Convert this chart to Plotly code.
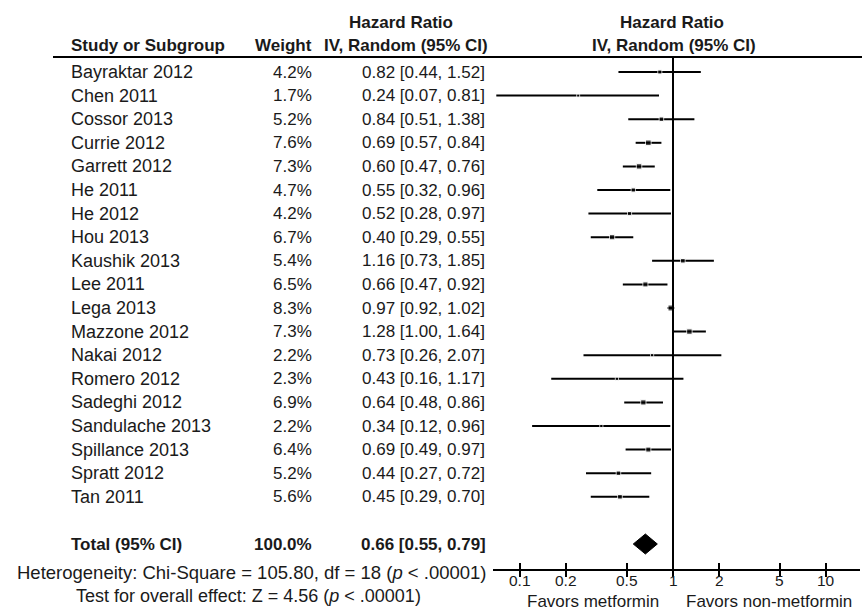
import math
import plotly.graph_objects as go

studies = ["Bayraktar 2012", "Chen 2011", "Cossor 2013", "Currie 2012", "Garrett 2012",
           "He 2011", "He 2012", "Hou 2013", "Kaushik 2013", "Lee 2011", "Lega 2013",
           "Mazzone 2012", "Nakai 2012", "Romero 2012", "Sadeghi 2012", "Sandulache 2013",
           "Spillance 2013", "Spratt 2012", "Tan 2011"]
weights = [4.2, 1.7, 5.2, 7.6, 7.3, 4.7, 4.2, 6.7, 5.4, 6.5, 8.3, 7.3, 2.2, 2.3, 6.9, 2.2, 6.4, 5.2, 5.6]
hr = [0.82, 0.24, 0.84, 0.69, 0.60, 0.55, 0.52, 0.40, 1.16, 0.66, 0.97, 1.28, 0.73, 0.43, 0.64, 0.34, 0.69, 0.44, 0.45]
lo = [0.44, 0.07, 0.51, 0.57, 0.47, 0.32, 0.28, 0.29, 0.73, 0.47, 0.92, 1.00, 0.26, 0.16, 0.48, 0.12, 0.49, 0.27, 0.29]
hi = [1.52, 0.81, 1.38, 0.84, 0.76, 0.96, 0.97, 0.55, 1.85, 0.92, 1.02, 1.64, 2.07, 1.17, 0.86, 0.96, 0.97, 0.72, 0.70]

total_label = "Total (95% CI)"
total_weight = 100.0
total_hr, total_lo, total_hi = 0.66, 0.55, 0.79
heterogeneity = "Heterogeneity: Chi-Square = 105.80, df = 18 (<i>p</i> < .00001)"
overall = "Test for overall effect: Z = 4.56 (<i>p</i> < .00001)"
tick_vals = [0.1, 0.2, 0.5, 1, 2, 5, 10]
tick_text = ["0.1", "0.2", "0.5", "1", "2", "5", "10"]
favors_left = "Favors metformin"
favors_right = "Favors non-metformin"

# ---- layout geometry (pixels) ----
W, H = 862, 614
FONT = "Arial, Liberation Sans, sans-serif"
TXT = "#1a1a1a"
row0_px, pitch = 72, 23.6
axis_px = 569
n = len(studies)
total_row = n + 1

def px2row(p):
    return (p - row0_px) / pitch

def xp(p):
    return p / W

def yp(p):
    return 1 - p / H

fig = go.Figure()

# CI lines
cx, cy = [], []
for i in range(n):
    cx += [lo[i], hi[i], None]
    cy += [i, i, None]
fig.add_trace(go.Scatter(x=cx, y=cy, mode="lines", line=dict(color="black", width=2),
                         hoverinfo="skip", cliponaxis=False))

# point estimates (size scaled by weight)
fig.add_trace(go.Scatter(x=hr, y=list(range(n)), mode="markers",
                         marker=dict(symbol="square", color="black",
                                     size=[2.2 + w * 0.45 for w in weights]),
                         hoverinfo="skip", cliponaxis=False))

# pooled diamond
dh = 10 / pitch
fig.add_trace(go.Scatter(x=[total_lo, total_hr, total_hi, total_hr, total_lo],
                         y=[total_row, total_row - dh, total_row, total_row + dh, total_row],
                         mode="lines", fill="toself", fillcolor="black",
                         line=dict(color="black", width=1), hoverinfo="skip"))

# line of no effect
fig.add_trace(go.Scatter(x=[1, 1], y=[px2row(57), px2row(axis_px)], mode="lines",
                         line=dict(color="black", width=2), hoverinfo="skip", cliponaxis=False))

# invisible trace for the crossing-tick overlay axis
fig.add_trace(go.Scatter(x=[1], y=[0], xaxis="x2", mode="markers",
                         marker=dict(opacity=0), hoverinfo="skip"))

ann = []
def add_text(text, x, y, anchor="left", bold=False, size=17, yref="paper", xref="paper"):
    t = f"<b>{text}</b>" if bold else text
    ann.append(dict(text=t, x=x, y=y, xref=xref, yref=yref, xanchor=anchor,
                    yanchor="middle", showarrow=False, borderpad=0,
                    font=dict(family=FONT, size=size, color=TXT)))

# headers
add_text("Study or Subgroup", xp(70), yp(45), bold=True)
add_text("Weight", xp(313), yp(45), anchor="right", bold=True)
add_text("Hazard Ratio", xp(401), yp(22), anchor="center", bold=True)
add_text("IV, Random (95% CI)", xp(406), yp(45), anchor="center", bold=True)
add_text("Hazard Ratio", xp(672), yp(22), anchor="center", bold=True)
add_text("IV, Random (95% CI)", xp(674), yp(45), anchor="center", bold=True)

# rows
for i in range(n):
    add_text(studies[i], xp(70), i, yref="y", size=18)
    add_text(f"{weights[i]:.1f}%", xp(313), i, anchor="right", yref="y")
    add_text(f"{hr[i]:.2f} [{lo[i]:.2f}, {hi[i]:.2f}]", xp(486), i, anchor="right", yref="y")

add_text(total_label, xp(70), total_row, bold=True, yref="y")
add_text(f"{total_weight:.1f}%", xp(313), total_row, anchor="right", bold=True, yref="y")
add_text(f"{total_hr:.2f} [{total_lo:.2f}, {total_hi:.2f}]", xp(487), total_row,
         anchor="right", bold=True, yref="y")
add_text(heterogeneity, xp(488), yp(572), anchor="right", size=18.5)
add_text(overall, xp(422), yp(596), anchor="right", size=18)

# x tick labels close under the axis
for v, t in zip(tick_vals, tick_text):
    add_text(t, math.log10(v), yp(580), anchor="center", size=15.5, xref="x")

add_text(favors_left, xp(593), yp(601), anchor="center", size=17)
add_text(favors_right, xp(769), yp(601), anchor="center", size=17)

shapes = [dict(type="line", xref="paper", yref="paper", x0=xp(53), x1=1, y0=yp(57), y1=yp(57),
               line=dict(color="black", width=2))]

xr = [math.log10(0.1) - (520 - 493) / 153, (860 - 673) / 153]

fig.update_layout(
    width=W, height=H, margin=dict(l=0, r=0, t=0, b=0),
    paper_bgcolor="white", plot_bgcolor="white", showlegend=False,
    annotations=ann, shapes=shapes,
    xaxis=dict(type="log", range=xr, domain=[xp(493), xp(860)], anchor="y",
               showline=True, linecolor="black", linewidth=2,
               ticks="outside", ticklen=6, tickwidth=1.5, tickcolor="black",
               tickvals=tick_vals, showticklabels=False,
               showgrid=False, zeroline=False),
    xaxis2=dict(type="log", range=xr, domain=[xp(493), xp(860)], anchor="y",
                overlaying="x", side="bottom", showline=False,
                ticks="inside", ticklen=6, tickwidth=1.5, tickcolor="black",
                tickvals=tick_vals, showticklabels=False,
                showgrid=False, zeroline=False),
    yaxis=dict(range=[px2row(axis_px), px2row(0)], domain=[1 - axis_px / H, 1],
               visible=False, showgrid=False, zeroline=False),
)

fig.write_html("out.html", config=dict(displayModeBar=False),
               post_script="document.body.style.margin='0';document.body.style.overflow='hidden';")
